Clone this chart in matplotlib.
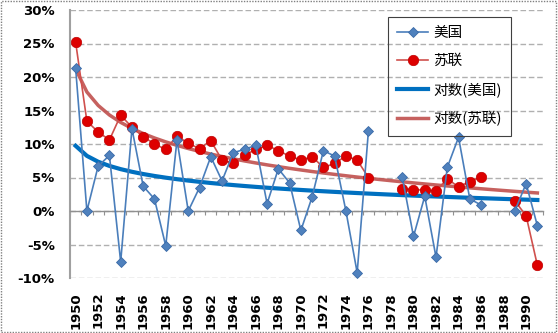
import matplotlib
matplotlib.use("Agg")
import matplotlib.pyplot as plt
import matplotlib.patches as mpatches
import numpy as np
from matplotlib.ticker import FixedLocator, FuncFormatter

plt.rcParams["font.family"] = ["Noto Sans CJK SC", "DejaVu Sans"]

years = np.arange(1950, 1992)
nan = np.nan
# growth rates in %, blank years left as nan
usa = [21.3, 0.0, 6.7, 8.3, -7.6, 12.3, 3.7, 1.8, -5.2, 10.6,
       0.0, 3.5, 8.1, 4.5, 8.7, 9.2, 9.8, 1.1, 6.3, 4.2,
       -2.9, 2.1, 9.0, 8.2, 0.0, -9.2, 12.0, nan, nan, 5.1,
       -3.8, 2.2, -6.9, 6.5, 11.0, 1.8, 0.9, nan, nan, 0.0,
       4.1, -2.2]
ussr = [25.2, 13.4, 11.8, 10.6, 14.3, 12.5, 11.1, 10.0, 9.2, 11.2,
        10.1, 9.3, 10.5, 7.6, 7.1, 8.3, 9.2, 9.8, 9.0, 8.2,
        7.6, 8.1, 6.5, 7.1, 8.2, 7.6, 5.0, nan, nan, 3.3,
        3.2, 3.1, 3.0, 4.8, 3.6, 4.4, 5.1, nan, nan, 1.5,
        -0.7, -8.1]
series_names = ["美国", "苏联"]
trend_names = ["对数(美国)", "对数(苏联)"]


def log_trend(values):
    # Excel style logarithmic trendline on category index 1..n
    v = np.asarray(values, dtype=float)
    idx = np.arange(1, len(v) + 1)
    ok = ~np.isnan(v)
    b, a = np.polyfit(np.log(idx[ok]), v[ok], 1)
    return a + b * np.log(idx)


W, H = 558, 333
fig = plt.figure(figsize=(W / 100, H / 100), dpi=100)

# dotted pattern background
bg = fig.add_axes([0, 0, 1, 1], zorder=-5)
bg.set_xlim(0, W)
bg.set_ylim(H, 0)
bg.axis("off")
gx, gy = [], []
for r, yy in enumerate(np.arange(2, H, 5)):
    xs = np.arange(2 + (r % 2) * 3, W, 6)
    gx.extend(xs)
    gy.extend([yy] * len(xs))
bg.scatter(gx, gy, s=0.5, marker="s", color="#cccccc", linewidths=0)
fig.add_artist(mpatches.Rectangle((0.002, 0.003), 0.995, 0.993,
                                  transform=fig.transFigure, fill=False,
                                  edgecolor="#808080", linestyle=(0, (1, 1)),
                                  linewidth=1))

ax = fig.add_axes([70 / W, 1 - 278 / H, 473 / W, 268 / H])
ax.set_facecolor("none")
ax.set_xlim(years[0] - 0.5, years[-1] + 0.5)
ax.set_ylim(-10, 30)

for g in range(-10, 31, 5):
    ax.axhline(g, color="#b0b0b0", linewidth=1, linestyle=(0, (4, 2)), zorder=0)

blue = "#4a7ebb"
ax.plot(years, usa, color=blue, linewidth=1.2, marker="D", markersize=5,
        markerfacecolor="#4f81bd", markeredgecolor="#3a6aa8",
        markeredgewidth=0.6, label=series_names[0], zorder=4)
ax.plot(years, ussr, color="#d0504d", linewidth=1.2, marker="o", markersize=7.5,
        markerfacecolor="#dd0000", markeredgecolor="#c00000",
        markeredgewidth=0.5, label=series_names[1], zorder=3)
ax.plot(years, log_trend(usa), color="#0070c0", linewidth=3,
        label=trend_names[0], zorder=2)
ax.plot(years, log_trend(ussr), color="#c0504d", linewidth=2.5, alpha=0.9,
        label=trend_names[1], zorder=2)

# spines: left axis and the category axis crossing at zero
for s in ["top", "right"]:
    ax.spines[s].set_visible(False)
ax.spines["left"].set_color("#a0a0a0")
ax.spines["left"].set_linewidth(1.5)
ax.spines["bottom"].set_position(("data", 0))
ax.spines["bottom"].set_color("#909090")
ax.spines["bottom"].set_linewidth(1)

ax.xaxis.set_major_locator(FixedLocator([]))
ax.xaxis.set_minor_locator(FixedLocator(np.append(years - 0.5, years[-1] + 0.5)))
ax.tick_params(axis="x", which="minor", length=3, color="#909090", width=0.8)

ax.set_yticks(range(-10, 31, 5))
ax.yaxis.set_major_formatter(FuncFormatter(lambda v, p: f"{int(v)}%"))
ax.tick_params(axis="y", length=0, pad=11)
for lab in ax.get_yticklabels():
    lab.set_fontfamily("DejaVu Sans")
    lab.set_fontweight("bold")
    lab.set_fontsize(9.5)

sec = ax.secondary_xaxis(0.0)
sec.spines["bottom"].set_visible(False)
sec.set_xticks(years[::2])
sec.set_xticklabels([str(y) for y in years[::2]], rotation=90,
                    fontfamily="DejaVu Sans", fontweight="bold", fontsize=9.5)
sec.tick_params(length=0, pad=10)

leg = ax.legend(loc="upper left", bbox_to_anchor=(318 / 473, 1 - 7 / 268),
                frameon=True, fancybox=False, framealpha=1, fontsize=10.5,
                handlelength=2.1, labelspacing=0.95, borderpad=0.65,
                handletextpad=0.35, borderaxespad=0)
leg.get_frame().set_facecolor("none")
leg.get_frame().set_edgecolor("#404040")
leg.get_frame().set_linewidth(0.8)

fig.savefig("out.png", dpi=100)
